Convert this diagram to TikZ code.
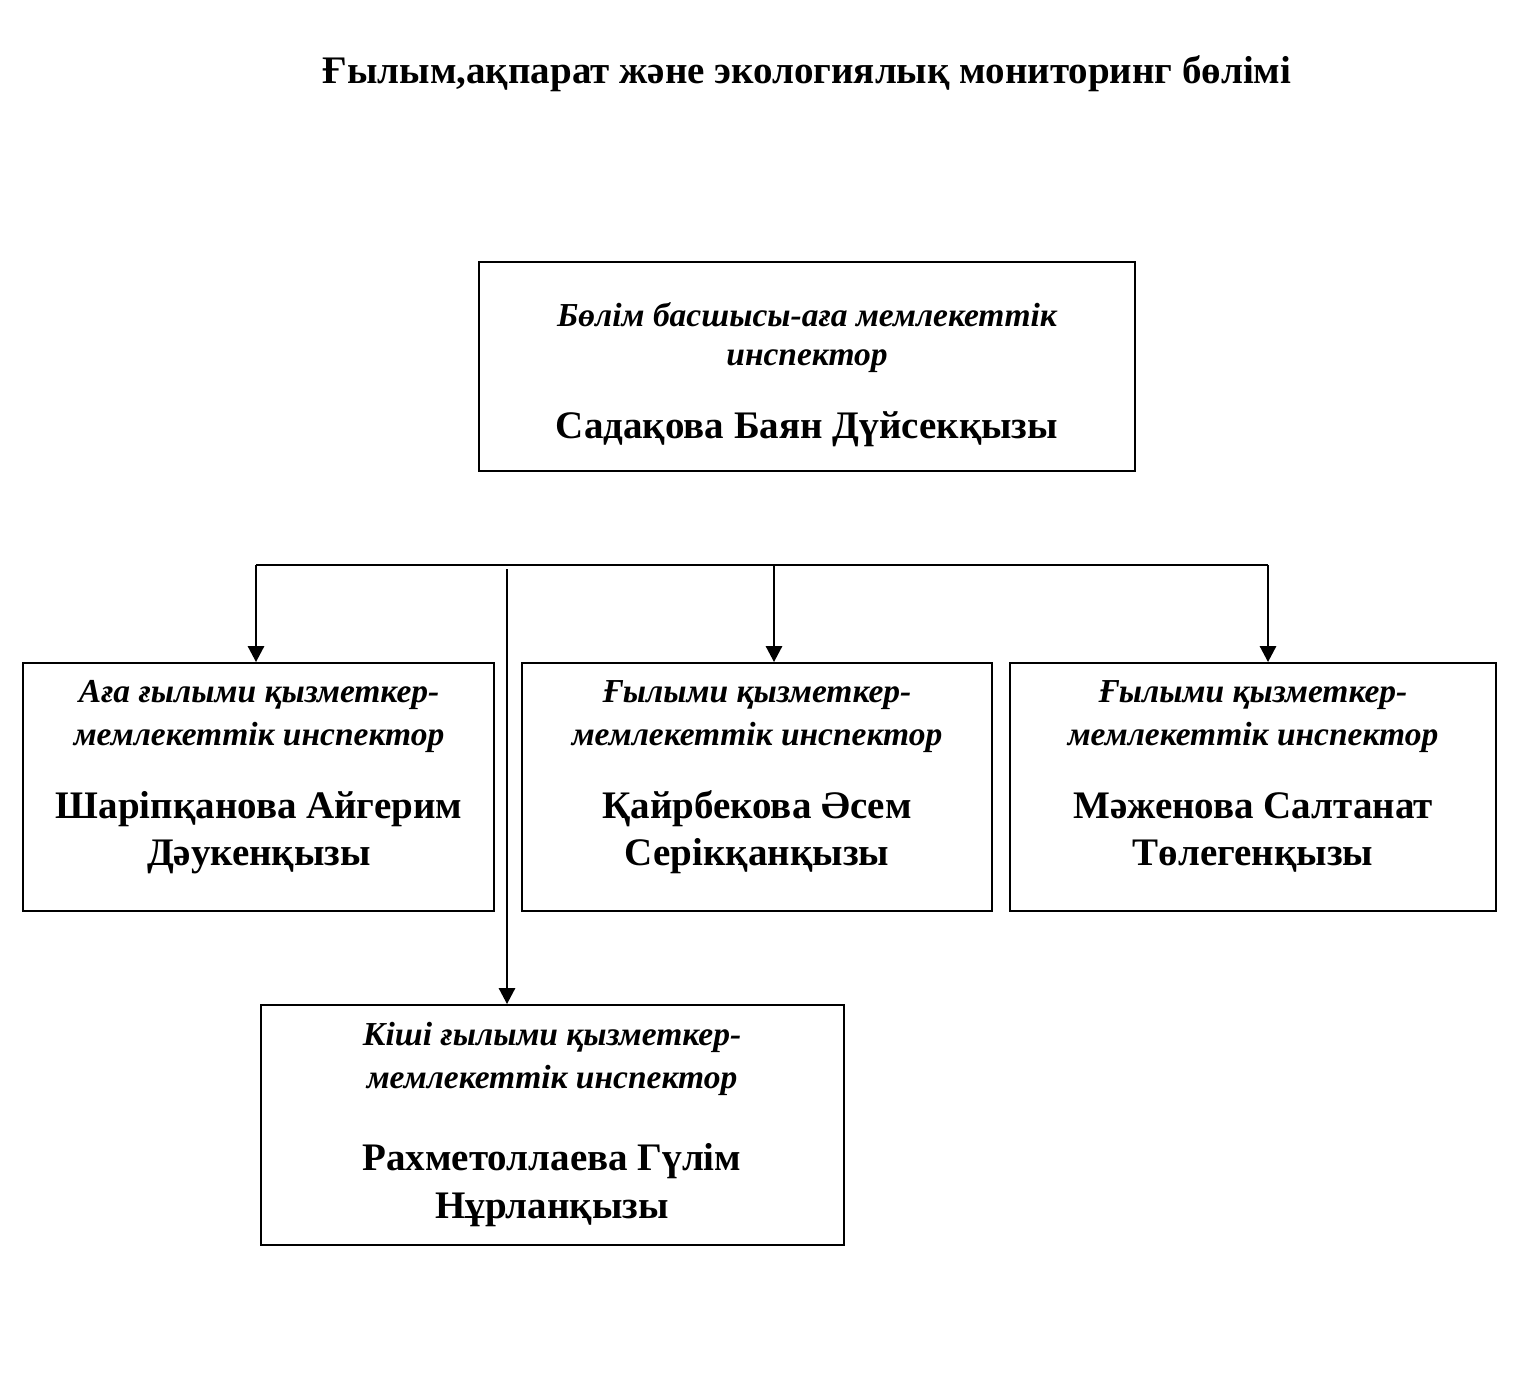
\documentclass[tikz,border=0pt]{standalone}
\usepackage{fontspec}
\setmainfont{Liberation Serif}
\usetikzlibrary{arrows.meta}
\begin{document}
\begin{tikzpicture}[x=1pt,y=-1pt,
  box/.style={draw, line width=1.8pt, inner sep=0pt},
  role/.style={anchor=base, inner sep=0pt, font=\fontsize{33.5}{40}\selectfont\bfseries\itshape},
  who/.style={anchor=base, inner sep=0pt, font=\fontsize{39}{46}\selectfont\bfseries},
  conn/.style={line width=2.8pt},
  arr/.style={conn, -{Triangle[width=16pt,length=16pt]}}]
\useasboundingbox (0,0) rectangle (1514,1386);
\node[anchor=base, inner sep=0pt, font=\fontsize{39}{46}\selectfont\bfseries] (title) at (807,84) {Ғылым,ақпарат және экологиялық мониторинг бөлімі};

\node[box, minimum width=656pt, minimum height=209pt] (top) at (807,366.5) {};
\node[role] (t1) at (807,326) {Бөлім басшысы-аға мемлекеттік};
\node[role] (t2) at (807,365) {инспектор};
\node[who] (t3) at (807,438) {Садақова Баян Дүйсекқызы};

\node[box, minimum width=471pt, minimum height=248pt] (b1) at (258.5,787) {};
\node[role] (b1a) at (259,702) {Аға ғылыми қызметкер-};
\node[role] (b1b) at (259,745) {мемлекеттік инспектор};
\node[who] (b1c) at (259,818) {Шаріпқанова Айгерим};
\node[who] (b1d) at (259,865) {Дәукенқызы};

\node[box, minimum width=470pt, minimum height=248pt] (b2) at (757,787) {};
\node[role] (b2a) at (757,702) {Ғылыми қызметкер-};
\node[role] (b2b) at (757,745) {мемлекеттік инспектор};
\node[who] (b2c) at (757,818) {Қайрбекова Әсем};
\node[who] (b2d) at (757,865) {Серікқанқызы};

\node[box, minimum width=486pt, minimum height=248pt] (b3) at (1253,787) {};
\node[role] (b3a) at (1253,702) {Ғылыми қызметкер-};
\node[role] (b3b) at (1253,745) {мемлекеттік инспектор};
\node[who] (b3c) at (1253,818) {Мәженова Салтанат};
\node[who] (b3d) at (1253,865) {Төлегенқызы};

\node[box, minimum width=583pt, minimum height=240pt] (b4) at (552.5,1125) {};
\node[role] (b4a) at (552,1045) {Кіші ғылыми қызметкер-};
\node[role] (b4b) at (552,1088) {мемлекеттік инспектор};
\node[who] (b4c) at (552,1170) {Рахметоллаева Гүлім};
\node[who] (b4d) at (552,1218) {Нұрланқызы};

\coordinate (h1) at (256,565);
\coordinate (h2) at (774,565);
\coordinate (h3) at (1268,565);
\coordinate (m) at (507,569);
\draw[line width=2pt] (h1) -- (h3);
\draw[arr] (h1) -- (h1 |- b1.north);
\draw[arr] (h2) -- (h2 |- b2.north);
\draw[arr] (h3) -- (h3 |- b3.north);
\draw[arr] (m) -- (m |- b4.north);
\end{tikzpicture}
\end{document}
